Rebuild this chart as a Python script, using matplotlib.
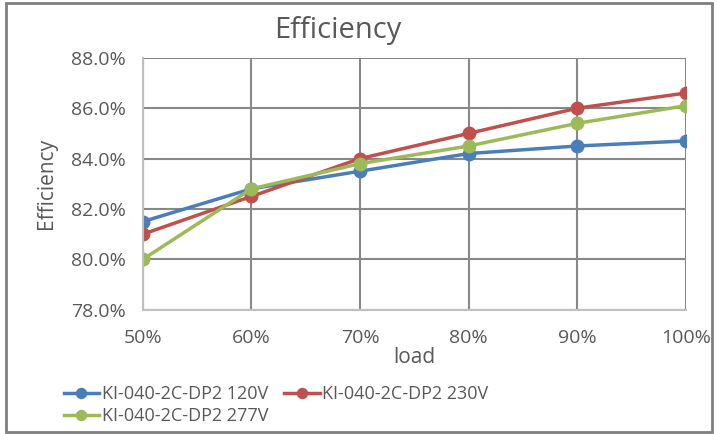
import matplotlib.pyplot as plt
from matplotlib.patches import Rectangle
from matplotlib.ticker import FuncFormatter

load = [50, 60, 70, 80, 90, 100]
eff_120v = [81.5, 82.8, 83.5, 84.2, 84.5, 84.7]
eff_230v = [81.0, 82.5, 84.0, 85.0, 86.0, 86.6]
eff_277v = [80.0, 82.8, 83.8, 84.5, 85.4, 86.1]
labels = ['KI-040-2C-DP2 120V', 'KI-040-2C-DP2 230V', 'KI-040-2C-DP2 277V']
colors = ['#4a7ebb', '#c0504d', '#9bbb59']

plt.rcParams['font.family'] = ['Open Sans', 'DejaVu Sans']
txt = '#595959'

fig = plt.figure(figsize=(7.17, 4.34), dpi=100)
fig.patches.append(Rectangle((0.008, 0.005), 0.985, 0.988, transform=fig.transFigure,
                             fill=False, edgecolor='#7f7f7f', linewidth=2))
ax = fig.add_axes([0.199, 0.286, 0.758, 0.581])

lines = []
for y, lab, c in zip([eff_120v, eff_230v, eff_277v], labels, colors):
    ln, = ax.plot(load, y, color=c, linewidth=2.5, marker='o', markersize=9, label=lab)
    lines.append(ln)

ax.set_xlim(50, 100)
ax.set_ylim(78, 88)
ax.set_xticks(load)
ax.set_yticks([78, 80, 82, 84, 86, 88])
ax.xaxis.set_major_formatter(FuncFormatter(lambda v, p: f'{v:.0f}%'))
ax.yaxis.set_major_formatter(FuncFormatter(lambda v, p: f'{v:.1f}%'))
ax.grid(True, color='#888888', linewidth=1.5)
ax.set_axisbelow(True)
for s in ['top', 'right']:
    ax.spines[s].set_visible(False)
for s in ['left', 'bottom']:
    ax.spines[s].set_color('#c0c0c0')
    ax.spines[s].set_linewidth(1.5)
ax.tick_params(axis='y', length=0, labelsize=14, colors=txt, pad=12)
ax.tick_params(axis='x', length=0, labelsize=14, colors=txt, pad=14)

fig.text(0.471, 0.93, 'Efficiency', fontsize=21, color=txt, ha='center', va='center')
ax.set_xlabel('load', fontsize=15, color=txt, labelpad=0)
ax.set_ylabel('Efficiency', fontsize=15, color=txt, labelpad=10)

# row-wise order: 120V, 230V on first row, 277V below
order = [0, 2, 1]
ax.legend([lines[i] for i in order], [labels[i] for i in order],
          loc='upper left', bbox_to_anchor=(-0.175, -0.235), ncol=2, frameon=False,
          fontsize=13, labelcolor=txt, handlelength=1.95, columnspacing=0.9,
          handletextpad=0.15, labelspacing=0.2, markerscale=0.8)

fig.savefig('out.png', dpi=100)
